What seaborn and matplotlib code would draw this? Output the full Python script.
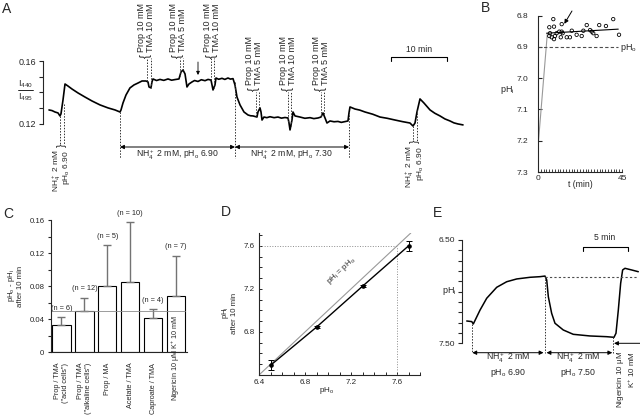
import numpy as np
import pandas as pd
import matplotlib
matplotlib.use('Agg')
import matplotlib.pyplot as plt
from matplotlib.ticker import FixedLocator, MultipleLocator, FormatStrFormatter
import seaborn as sns

# ---------------- data ----------------
# A: fluorescence ratio trace (time in min, ratio I440/I495)
a_time = [0, 0.54, 1.07, 1.61, 1.96, 2.14, 2.5, 2.86, 3.39, 4.11, 5.18, 6.43, 7.68,
          9.11, 10.54, 11.79, 12.68, 12.86, 13.21, 13.75, 14.46, 15.18, 15.89, 16.61,
          17.32, 17.68, 17.86, 18.21, 18.39, 18.57, 19.2, 19.82, 20.5, 21.25, 21.9,
          22.5, 23.21, 23.57, 23.93, 24.29, 24.64, 25.0, 25.54, 26.0, 26.61, 27.2,
          27.86, 28.4, 28.93, 29.11, 29.29, 29.64, 29.82, 30.3, 30.89, 31.4, 31.96,
          32.4, 32.86, 33.21, 33.57, 34.11, 34.82, 35.54, 36.0, 36.43, 37.14, 37.32,
          37.68, 37.86, 38.04, 38.39, 38.9, 39.46, 40.2, 40.89, 41.5, 42.14, 42.68,
          42.86, 43.04, 43.39, 43.57, 43.93, 44.82, 45.7, 46.61, 47.3, 48.04, 48.57,
          48.93, 49.29, 49.64, 50.18, 50.9, 51.61, 52.2, 52.86, 53.39, 53.57, 53.75,
          54.64, 55.5, 56.43, 57.8, 59.11, 60.4, 61.79, 63.1, 64.46, 65.0, 65.36,
          65.71, 66.25, 66.96, 68.04, 68.9, 69.82, 70.7, 71.61, 72.3, 73.04, 73.93]
a_ratio = [0.1289, 0.1285, 0.1276, 0.1270, 0.1251, 0.1264, 0.1352, 0.1454, 0.1441,
           0.1422, 0.1397, 0.1371, 0.1346, 0.1321, 0.1302, 0.1289, 0.1276, 0.1289,
           0.1333, 0.1384, 0.1429, 0.1448, 0.1460, 0.1473, 0.1473, 0.1467, 0.1435,
           0.1429, 0.1467, 0.1486, 0.1476, 0.1483, 0.1477, 0.1486, 0.1478, 0.1482,
           0.1486, 0.1530, 0.1543, 0.1518, 0.1435, 0.1454, 0.1467, 0.1476, 0.1470,
           0.1481, 0.1475, 0.1483, 0.1479, 0.1448, 0.1416, 0.1448, 0.1492, 0.1484,
           0.1490, 0.1483, 0.1492, 0.1485, 0.1488, 0.1448, 0.1371, 0.1321, 0.1276,
           0.1257, 0.1252, 0.1251, 0.1244, 0.1276, 0.1302, 0.1276, 0.1225, 0.1244,
           0.1240, 0.1246, 0.1240, 0.1244, 0.1237, 0.1241, 0.1238, 0.1206, 0.1162,
           0.1225, 0.1276, 0.1251, 0.1244, 0.1236, 0.1240, 0.1234, 0.1238, 0.1244,
           0.1270, 0.1238, 0.1206, 0.1219, 0.1214, 0.1216, 0.1210, 0.1215, 0.1219,
           0.1270, 0.1308, 0.1295, 0.1288, 0.1276, 0.1262, 0.1244, 0.1236, 0.1225,
           0.1215, 0.1206, 0.1187, 0.1206, 0.1276, 0.1359, 0.1333, 0.1289, 0.1268,
           0.1251, 0.1232, 0.1219, 0.1207, 0.1200, 0.1194]

# B: pHi vs time (scatter), onset line, fitted line
b_time = [8.2, 6.05, 8.57, 12.7, 26.1, 32.8, 36.4, 40.3, 43.4, 6.43, 6.05, 7.34, 8.57,
          10.0, 11.4, 12.7, 13.2, 12.2, 15.4, 17.1, 18.1, 20.7, 23.4, 24.3, 27.9, 28.8,
          31.4, 29.6, 9.1]
b_phi = [6.811, 6.837, 6.835, 6.827, 6.830, 6.830, 6.833, 6.811, 6.861, 6.856, 6.865,
         6.869, 6.875, 6.856, 6.851, 6.851, 6.856, 6.869, 6.869, 6.869, 6.848, 6.861,
         6.865, 6.848, 6.846, 6.851, 6.865, 6.856, 6.865]
b_onset_time = [0, 5]
b_onset_phi = [7.22, 6.857]
b_fit_time = [4.6, 43]
b_fit_phi = [6.856, 6.843]
b_pho = 6.9

# C: bar chart
c_labels = ['Prop / TMA\n("acid cells")', 'Prop / TMA\n("alkaline cells")', 'Prop / MA',
            'Acetate / TMA', 'Caproate / TMA', 'Nigericin']
c_means = [0.0335, 0.0497, 0.0804, 0.0852, 0.0419, 0.0686]
c_err = [0.009, 0.016, 0.049, 0.072, 0.010, 0.048]
c_n = [6, 12, 5, 10, 4, 7]
c_ref = 0.05

# D: pHi after 10 min vs pHo
d_pho = [6.5, 6.9, 7.3, 7.7]
d_phi = [6.49, 6.845, 7.225, 7.60]
d_err = [0.045, 0.01, 0.01, 0.045]

# E: pHi trace (time in min)
e_time = [0, 0.56, 0.73, 1.48, 2.22, 3.33, 4.44, 5.56, 7.04, 8.15, 8.7, 8.89, 9.07, 9.44,
          9.81, 10.73, 11.84, 13.7, 15.56, 16.37, 16.59, 16.85, 17.11, 17.33, 17.59,
          18.33, 19.07]
e_phi = [7.284, 7.29, 7.313, 7.178, 7.064, 6.958, 6.904, 6.877, 6.861, 6.855, 6.849,
         6.887, 7.049, 7.21, 7.306, 7.371, 7.413, 7.429, 7.436, 7.442, 7.403, 7.178,
         6.919, 6.79, 6.774, 6.79, 6.807]

# ---------------- style ----------------
sns.set_theme(style='ticks')
plt.rcParams['font.family'] = ['Liberation Sans', 'DejaVu Sans']
plt.rcParams['mathtext.fontset'] = 'custom'
plt.rcParams['mathtext.rm'] = 'Liberation Sans'
plt.rcParams['mathtext.it'] = 'Liberation Sans:italic'
plt.rcParams['mathtext.bf'] = 'Liberation Sans:bold'
plt.rcParams['font.size'] = 6
plt.rcParams['axes.linewidth'] = 0.8
plt.rcParams['xtick.labelsize'] = 6
plt.rcParams['ytick.labelsize'] = 6

W, H = 640, 419
fig = plt.figure(figsize=(6.4, 4.19), dpi=100)


def px_axes(x0, y0, x1, y1):
    return fig.add_axes([x0 / W, 1 - y1 / H, (x1 - x0) / W, (y1 - y0) / H])


def only_spines(ax, keep):
    for s in ['left', 'right', 'top', 'bottom']:
        ax.spines[s].set_visible(s in keep)
    ax.set_facecolor('none')


# ---------------- panel A ----------------
axA = px_axes(43, 30, 470, 160)
sns.lineplot(x=a_time, y=a_ratio, ax=axA, color='black', lw=1.2, sort=False)
axA.set_xlim(-1.07, 75.18)
axA.set_ylim(0.0971, 0.1797)
only_spines(axA, ['left'])
axA.spines['left'].set_bounds(0.12, 0.16)
axA.yaxis.set_major_locator(FixedLocator([0.12, 0.16]))
axA.yaxis.set_minor_locator(FixedLocator([0.13, 0.14, 0.15]))
axA.yaxis.set_major_formatter(FormatStrFormatter('%.2f'))
axA.tick_params(axis='y', which='both', direction='out', length=3, width=0.8, pad=2,
                labelsize=6.5)
axA.set_xticks([])

# ---------------- panel B ----------------
axB = px_axes(538, 15.7, 622, 172)
sns.lineplot(x=b_onset_time, y=b_onset_phi, ax=axB, color='0.6', lw=0.8)
sns.lineplot(x=b_fit_time, y=b_fit_phi, ax=axB, color='black', lw=0.8)
sns.scatterplot(x=b_time, y=b_phi, ax=axB, marker='o', s=6, facecolor='none',
                edgecolor='black', linewidth=0.6, zorder=3)
axB.plot([0, 42.9], [b_pho, b_pho], ls=(0, (3, 2)), color='0.3', lw=0.8)
axB.annotate('', xy=(14.1, 6.826), xytext=(18.2, 6.785),
             arrowprops=dict(arrowstyle='-|>', lw=0.7, color='black', mutation_scale=6,
                             shrinkA=0, shrinkB=0), annotation_clip=False)
axB.set_xlim(0, 45)
axB.set_ylim(7.3, 6.8)
only_spines(axB, ['left', 'bottom'])
axB.set_yticks([6.8, 6.9, 7.0, 7.1, 7.2, 7.3])
axB.yaxis.set_major_formatter(FormatStrFormatter('%.1f'))
axB.set_xticks([0, 45])
axB.xaxis.set_minor_locator(MultipleLocator(1.5))
axB.tick_params(axis='y', direction='in', length=3, width=0.8, pad=7)
axB.tick_params(axis='x', which='both', direction='in', length=2, width=0.6, pad=2)

# ---------------- panel C ----------------
axC = px_axes(50.7, 220, 187, 352.3)
sns.barplot(x=list(range(6)), y=c_means, ax=axC, color='white', edgecolor='black',
            linewidth=0.8, width=0.8, saturation=1, native_scale=True)
axC.errorbar(range(6), c_means, yerr=[np.zeros(6), c_err], fmt='none', ecolor='0.45',
             elinewidth=1.0, capsize=3, capthick=1.0, zorder=4)
axC.plot([-0.42, 5.4], [c_ref, c_ref], color='0.55', lw=0.6, zorder=5)
for i in range(6):
    axC.text(i, c_means[i] + c_err[i] + 0.011, f'(n = {c_n[i]})', ha='center',
             va='center', fontsize=5.3)
axC.set_xlim(-0.47, 5.48)
axC.set_ylim(0, 0.16)
only_spines(axC, ['left', 'bottom'])
axC.set_yticks([0, 0.04, 0.08, 0.12, 0.16])
axC.set_yticklabels(['0', '0.04', '0.08', '0.12', '0.16'])
axC.yaxis.set_minor_locator(MultipleLocator(0.02))
axC.tick_params(axis='y', which='both', direction='out', length=2.5, width=0.8, pad=2,
                labelsize=5.6)
axC.set_xticks(range(5))
axC.set_xticklabels(c_labels[:5], rotation=90, va='top', ha='center', ma='right',
                    fontsize=5.2, linespacing=1.25)
axC.tick_params(axis='x', length=0, pad=7.5)
axC.text(5, 0.0452, r'Nigericin 10 $\mathrm{\mu}$M K$^{+}$ 10 mM', rotation=90,
         ha='center', va='top', fontsize=5.2, clip_on=False)

# ---------------- panel D ----------------
axD = px_axes(259, 233, 420, 375)
axD.plot([6.4, 7.72], [6.4, 7.72], color='0.6', lw=0.8)
axD.plot([7.6, 7.6], [6.4, 7.6], color='0.55', lw=0.7, ls=':')
axD.plot([6.4, 7.6], [7.6, 7.6], color='0.55', lw=0.7, ls=':')
sns.lineplot(x=d_pho, y=d_phi, ax=axD, color='black', lw=1.0)
axD.errorbar(d_pho, d_phi, yerr=d_err, fmt='o', ms=2.3, color='black', ecolor='black',
             elinewidth=0.7, capsize=2, capthick=0.7)
axD.text(7.12, 7.37, r'pH$_\mathrm{i}$ = pH$_\mathrm{o}$', rotation=43,
         rotation_mode='anchor', ha='center', va='center', fontsize=5.8)
axD.set_xlim(6.4, 7.8)
axD.set_ylim(6.4, 7.72)
only_spines(axD, ['left', 'bottom'])
axD.set_xticks([6.4, 6.8, 7.2, 7.6])
axD.set_yticks([6.8, 7.2, 7.6])
axD.xaxis.set_major_formatter(FormatStrFormatter('%.1f'))
axD.yaxis.set_major_formatter(FormatStrFormatter('%.1f'))
axD.xaxis.set_minor_locator(MultipleLocator(0.1))
axD.yaxis.set_minor_locator(MultipleLocator(0.1))
axD.tick_params(which='both', direction='in', length=2.5, width=0.7, pad=3,
                labelsize=5.8)

# ---------------- panel E ----------------
axE = px_axes(461.7, 240, 640, 343.3)
sns.lineplot(x=e_time, y=e_phi, ax=axE, color='black', lw=1.1, sort=False)
axE.plot([8.7, 19.07], [6.855, 6.855], ls=(0, (2, 2)), color='0.3', lw=0.8)
axE.set_xlim(-0.56, 19.26)
axE.set_ylim(7.5, 6.5)
only_spines(axE, ['left'])
axE.yaxis.set_major_locator(FixedLocator([6.5, 7.5]))
axE.yaxis.set_minor_locator(MultipleLocator(0.1))
axE.yaxis.set_major_formatter(FormatStrFormatter('%.2f'))
axE.tick_params(axis='y', which='both', direction='out', length=3, width=0.8, pad=2)
axE.set_xticks([])

# ---------------- overlay for annotations (pixel coordinates) ----------------
ov = fig.add_axes([0, 0, 1, 1], zorder=10)
ov.set_xlim(0, W)
ov.set_ylim(H, 0)
ov.axis('off')
ov.patch.set_alpha(0)

dot = dict(color='0.2', lw=0.7, ls=(0, (1.5, 1.5)))


def vdot(x, y0, y1):
    ov.plot([x, x], [y0, y1], **dot)


def dbl_arrow(x0, x1, y, style='<|-|>'):
    ov.annotate('', xy=(x1, y), xytext=(x0, y),
                arrowprops=dict(arrowstyle=style, lw=0.7, color='black',
                                mutation_scale=6, shrinkA=0, shrinkB=0))


def drug_label(cx, ybot, line1, line2):
    ov.text(cx, ybot + 3.5, '{', rotation=90, ha='center', va='center', fontsize=8.5)
    ov.text(cx - 4.3, ybot - 1, line1, rotation=90, ha='center', va='bottom', fontsize=6.5)
    ov.text(cx + 4.3, ybot - 1, line2, rotation=90, ha='center', va='bottom', fontsize=6.5)


# panel letters
for letter, (x, y) in {'A': (7, 9), 'B': (485, 8), 'C': (8, 214), 'D': (226, 212),
                       'E': (437, 213)}.items():
    ov.text(x, y, letter, fontsize=10, ha='center', va='center')

# A: y label as fraction
ov.text(25, 84, r'I$_{440}$', ha='center', va='center', fontsize=6.5)
ov.plot([18, 33], [90.5, 90.5], color='black', lw=0.6)
ov.text(25, 97, r'I$_{495}$', ha='center', va='center', fontsize=6.5)

# A: dotted event lines
for x, y0, y1 in [(60, 116, 145), (63.5, 104, 145), (120, 112, 158), (235, 82, 158),
                  (349, 112, 158), (413, 126, 141), (417, 110, 141),
                  (147, 81, 58), (151, 88, 58), (180, 76, 58), (183, 70, 58),
                  (211, 80, 58), (214, 88, 58), (256, 116, 92), (259, 108, 92),
                  (288, 122, 92), (291, 126, 92), (321, 116, 92), (324, 114, 92)]:
    vdot(x, y0, y1)

drug_label(146, 53, 'Prop 10 mM', 'TMA 10 mM')
drug_label(178, 53, 'Prop 10 mM', 'TMA 5 mM')
drug_label(212, 53, 'Prop 10 mM', 'TMA 10 mM')
drug_label(254, 86, 'Prop 10 mM', 'TMA 5 mM')
drug_label(288, 86, 'Prop 10 mM', 'TMA 10 mM')
drug_label(321, 86, 'Prop 10 mM', 'TMA 5 mM')

# small arrow in A
ov.annotate('', xy=(198, 75), xytext=(198, 62),
            arrowprops=dict(arrowstyle='-|>', lw=0.6, color='black', mutation_scale=5,
                            shrinkA=0, shrinkB=0))

# NH4 pulses (bottom labels)
for cx, ytop, pho in [(61.5, 150, '6.90'), (415, 146, '6.90')]:
    ov.text(cx, ytop - 4.5, '}', rotation=90, ha='center', va='center', fontsize=8)
    ov.text(cx - 5, ytop, r'NH$_4^+$ 2 mM', rotation=90, ha='center', va='top',
            fontsize=6)
    ov.text(cx + 5, ytop, r'pH$_\mathrm{o}$ ' + pho, rotation=90, ha='center',
            va='top', fontsize=6)

dbl_arrow(120, 235, 147)
dbl_arrow(235, 349, 147)
ov.text(177, 155, r'NH$_4^+$ 2 mM, pH$_\mathrm{o}$ 6.90', ha='center', va='center',
        fontsize=6.2)
ov.text(291, 155, r'NH$_4^+$ 2 mM, pH$_\mathrm{o}$ 7.30', ha='center', va='center',
        fontsize=6.2)

# A scale bar
ov.plot([391, 391, 447, 447], [61, 57, 57, 61], color='black', lw=0.8)
ov.text(419, 50, '10 min', ha='center', va='center', fontsize=6.2)

# B labels
ov.text(507, 90, r'pH$_\mathrm{i}$', ha='center', va='center', fontsize=6.5)
ov.text(580, 184, 't (min)', ha='center', va='center', fontsize=6.2)
ov.text(620, 48, r'pH$_\mathrm{o}$', ha='left', va='center', fontsize=6.5)

# C / D axis titles
ov.text(15, 286, r'pH$_\mathrm{o}$ - pH$_\mathrm{i}$' + '\nafter 10 min', rotation=90,
        ha='center', va='center', fontsize=5.6, linespacing=1.1)
ov.text(229, 313, r'pH$_\mathrm{i}$' + '\nafter 10 min', rotation=90, ha='center',
        va='center', fontsize=5.6, linespacing=1.1)
ov.text(327, 390, r'pH$_\mathrm{o}$', ha='center', va='center', fontsize=5.8)

# E annotations
ov.text(449, 291, r'pH$_\mathrm{i}$', ha='center', va='center', fontsize=6.5)
vdot(472.3, 324, 352.7)
vdot(545, 276, 352.7)
vdot(613.3, 337, 352.7)
dbl_arrow(472.3, 543.5, 352.7)
dbl_arrow(546.5, 612.3, 352.7)
ov.annotate('', xy=(614, 343.3), xytext=(640, 343.3),
            arrowprops=dict(arrowstyle='-|>', lw=0.7, color='black', mutation_scale=6,
                            shrinkA=0, shrinkB=0))
ov.text(508, 365, r'NH$_4^+$ 2 mM' + '\n' + r'pH$_\mathrm{o}$ 6.90', ha='center',
        va='center', fontsize=6.3, linespacing=1.3)
ov.text(578, 365, r'NH$_4^+$ 2 mM' + '\n' + r'pH$_\mathrm{o}$ 7.50', ha='center',
        va='center', fontsize=6.3, linespacing=1.3)
ov.text(626, 351, r'Nigericin 10 $\mathrm{\mu}$M' + '\n' + r'K$^{+}$ 10 mM', rotation=90,
        ha='center', va='top', ma='right', fontsize=5.8, linespacing=1.1)
ov.plot([582.7, 582.7, 627.7, 627.7], [250.5, 246.7, 246.7, 250.5], color='black', lw=0.8)
ov.text(605, 237, '5 min', ha='center', va='center', fontsize=6.2)

fig.savefig('out.png', dpi=100)
